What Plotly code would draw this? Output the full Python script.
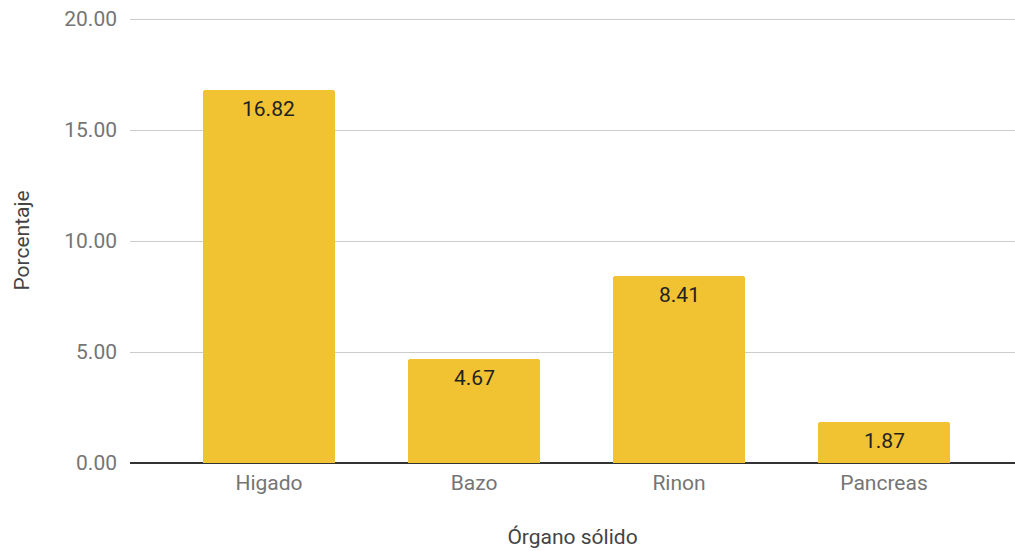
import plotly.graph_objects as go

categories = ["Higado", "Bazo", "Rinon", "Pancreas"]
values = [16.82, 4.67, 8.41, 1.87]
y_ticks = [0, 5, 10, 15, 20]

fig = go.Figure()
fig.add_trace(go.Bar(
    x=list(range(len(categories))),
    y=values,
    width=0.644,
    marker=dict(color="#F1C232", line=dict(width=0), cornerradius=3),
    hoverinfo="x+y",
))

for i, v in enumerate(values):
    fig.add_annotation(
        x=i, y=v, xref="x", yref="y",
        text=f"{v:.2f}", showarrow=False,
        yanchor="top", yshift=-5,
        font=dict(family="Roboto", size=21, color="#222222"),
    )

fig.update_layout(
    width=1015, height=551,
    margin=dict(l=130, r=0, t=18, b=88),
    paper_bgcolor="white", plot_bgcolor="white",
    font=dict(family="Roboto", size=21, color="#757575"),
    showlegend=False,
    bargap=0,
)
fig.update_xaxes(
    range=[-0.678, 3.639],
    tickmode="array",
    tickvals=list(range(len(categories))),
    ticktext=categories,
    showgrid=False,
    zeroline=False,
    showline=False,
    ticks="",
    ticklabelstandoff=5,
    tickfont=dict(family="Roboto", size=21, color="#757575"),
    title=dict(text="Órgano sólido", font=dict(family="Roboto", size=21, color="#444444"), standoff=35),
)
fig.update_yaxes(
    range=[0, 20.05],
    tickmode="array",
    tickvals=y_ticks,
    tickformat=".2f",
    showgrid=True, gridcolor="#CCCCCC", gridwidth=1,
    zeroline=True, zerolinecolor="#333333", zerolinewidth=1.5,
    showline=False,
    ticks="",
    ticklabelstandoff=12,
    tickfont=dict(family="Roboto", size=21, color="#757575"),
    title=dict(text="Porcentaje", font=dict(family="Roboto", size=21, color="#444444"), standoff=28),
)

fig.write_html("out.html")
